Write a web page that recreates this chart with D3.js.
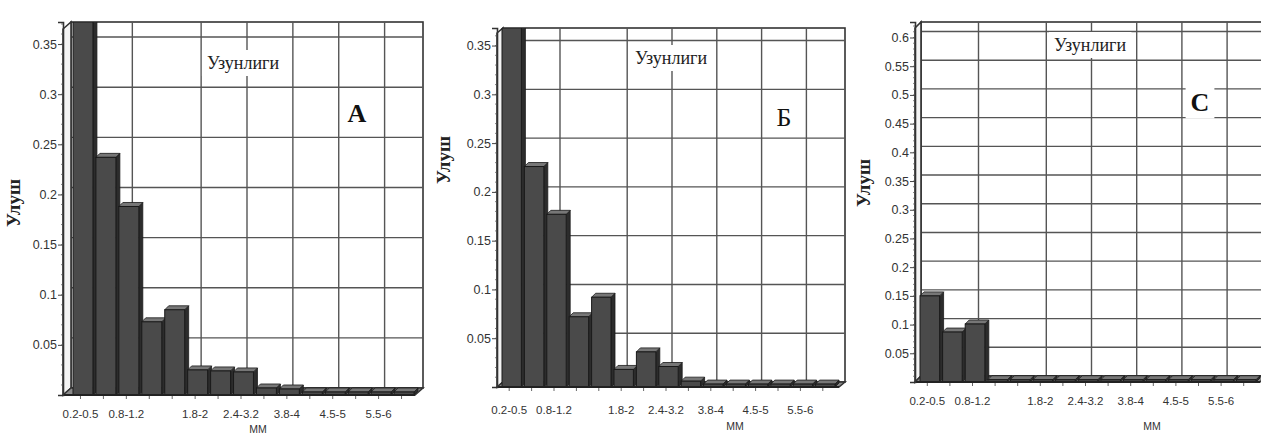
<!DOCTYPE html>
<html><head><meta charset="utf-8">
<script src="https://cdn.jsdelivr.net/npm/d3@7"></script>
<style>
html,body{margin:0;padding:0;background:#fff;}
svg{display:block;}
</style></head>
<body>
<svg id="c" width="1261" height="437"></svg>
<script>
// ---- data ----
const categories = ["0.2-0.5","0.5-0.8","0.8-1.2","1.2-1.5","1.5-1.8","1.8-2","2-2.4","2.4-3.2","3.2-3.8","3.8-4","4-4.5","4.5-5","5-5.5","5.5-6","6-7"];
const tickLabels = ["0.2-0.5","0.8-1.2","1.8-2","2.4-3.2","3.8-4","4.5-5","5.5-6"];
const valuesA = [0.372,0.237,0.188,0.073,0.085,0.025,0.024,0.023,0.007,0.006,0.003,0.003,0.003,0.003,0.003];
const valuesB = [0.368,0.226,0.177,0.072,0.092,0.018,0.036,0.021,0.006,0.003,0.003,0.003,0.003,0.003,0.003];
const valuesC = [0.150,0.087,0.101,0.004,0.004,0.004,0.004,0.004,0.004,0.004,0.004,0.004,0.004,0.004,0.004];
const yTicksAB = [0.05,0.1,0.15,0.2,0.25,0.3,0.35];
const yTicksC = [0.05,0.1,0.15,0.2,0.25,0.3,0.35,0.4,0.45,0.5,0.55,0.6];
const yMaxes = [0.372, 0.368, 0.627];
const minorSteps = [0.01, 0.01, 0.01];
const panelLetters = ["A","Б","C"];
const titleText = "Узунлиги";
const yTitle = "Улуш";
const xTitle = "ММ";

// ---- layout ----
const layouts = [
  {x0:63, bx0:73, bx1:417, right:423, top:22, base:395, dx:8, dy:7, labY:418, mmX:258, mmY:433, ulX:20, ulY:203, tX:243, tY:63, lX:357, lY:113, lBold:true},
  {x0:497, bx0:502, bx1:838, right:845, top:28, base:387, dx:6, dy:5, labY:414, mmX:735, mmY:430, ulX:450, ulY:160, tX:671, tY:58, lX:784, lY:117, lBold:false},
  {x0:915, bx0:920, bx1:1259, right:1266, top:22, base:382, dx:6, dy:6, labY:405, mmX:1152, mmY:430, ulX:870, ulY:183, tX:1090, tY:45, lX:1200, lY:102, lBold:true}
];
const seriesList = [valuesA, valuesB, valuesC];
const tickList = [yTicksAB, yTicksAB, yTicksC];

const svg = d3.select("#c");
const narrow = "'Liberation Sans Narrow','Arial Narrow','Liberation Sans',sans-serif";
const serif = "'Liberation Serif','Times New Roman',serif";
const gridCol = "#555";

layouts.forEach((L, i) => {
  const vals = seriesList[i];
  const g = svg.append("g");
  const x = d3.scaleBand().domain(categories).range([L.bx0, L.bx1]).padding(0);
  const y = d3.scaleLinear().domain([0, yMaxes[i]]).range([L.base, L.top]);
  const dyOff = L.dy, dxOff = L.dx;

  // back wall
  g.append("rect").attr("x", L.x0 + dxOff).attr("y", L.top)
    .attr("width", L.right - L.x0 - dxOff).attr("height", L.base - dyOff - L.top)
    .attr("fill", "#fff").attr("stroke", "#333").attr("stroke-width", 1.6);

  // horizontal grid
  g.selectAll(".hg").data(tickList[i]).join("line")
    .attr("x1", L.x0 + dxOff).attr("x2", L.right)
    .attr("y1", d => y(d) - dyOff).attr("y2", d => y(d) - dyOff)
    .attr("stroke", gridCol).attr("stroke-width", 1.4);
  // vertical grid
  g.selectAll(".vg").data(tickLabels.slice(1)).join("line")
    .attr("x1", d => x(d) + x.bandwidth()/2 + 2).attr("x2", d => x(d) + x.bandwidth()/2 + 2)
    .attr("y1", L.top).attr("y2", L.base - dyOff)
    .attr("stroke", gridCol).attr("stroke-width", 1.4);

  // title box
  const t = g.append("text").attr("x", L.tX).attr("y", L.tY).attr("text-anchor", "middle")
    .attr("dominant-baseline", "central").attr("font-family", serif).attr("font-size", 18)
    .attr("fill", "#222").text(titleText);
  const bb = t.node().getBBox();
  g.insert("rect", "text").attr("x", bb.x - 5).attr("y", bb.y - 3).attr("width", bb.width + 10)
    .attr("height", bb.height + 6).attr("fill", "#fff");
  // panel letter
  const lt = g.append("text").attr("x", L.lX).attr("y", L.lY).attr("text-anchor", "middle")
    .attr("dominant-baseline", "central").attr("font-family", serif).attr("font-size", 26)
    .attr("font-weight", L.lBold ? "bold" : "normal").attr("fill", "#111").text(panelLetters[i]);
  const lb = lt.node().getBBox();
  g.insert("rect", "text").attr("x", lb.x - 5).attr("y", lb.y - 2).attr("width", lb.width + 10)
    .attr("height", lb.height + 4).attr("fill", "#fff");
  lt.raise();

  // left wall
  g.append("polygon")
    .attr("points", [[L.x0, L.top + dyOff], [L.x0 + dxOff, L.top], [L.x0 + dxOff, L.base - dyOff], [L.x0, L.base]].join(" "))
    .attr("fill", "#f4f4f4").attr("stroke", "#333").attr("stroke-width", 1.6);
  // floor
  g.append("polygon")
    .attr("points", [[L.x0, L.base], [L.x0 + dxOff, L.base - dyOff], [L.right, L.base - dyOff], [L.right - dxOff, L.base]].join(" "))
    .attr("fill", "#8a8a8a").attr("stroke", "#333").attr("stroke-width", 1.5);

  // bars (3D)
  const clipId = "clip" + i;
  svg.append("defs").append("clipPath").attr("id", clipId).append("rect")
    .attr("x", L.x0).attr("y", L.top).attr("width", L.right - L.x0 + 10).attr("height", L.base - L.top + 4);
  const bars = g.append("g").attr("clip-path", `url(#${clipId})`);
  const d = 4;
  const bw = x.bandwidth() - 3;
  categories.forEach((c, k) => {
    const bx = x(c), by = y(vals[k]);
    const bg = bars.append("g");
    bg.append("polygon")
      .attr("points", [[bx + bw, by], [bx + bw + d, by - d], [bx + bw + d, L.base - d], [bx + bw, L.base]].join(" "))
      .attr("fill", "#2c2c2c").attr("stroke", "#1a1a1a").attr("stroke-width", 0.8);
    bg.append("polygon")
      .attr("points", [[bx, by], [bx + d, by - d], [bx + bw + d, by - d], [bx + bw, by]].join(" "))
      .attr("fill", "#777").attr("stroke", "#1a1a1a").attr("stroke-width", 0.8);
    bg.append("rect").attr("x", bx).attr("y", by).attr("width", bw).attr("height", L.base - by)
      .attr("fill", "#4a4a4a").attr("stroke", "#1a1a1a").attr("stroke-width", 1);
  });
  // front baseline
  g.append("line").attr("x1", L.x0).attr("x2", L.right - dxOff).attr("y1", L.base).attr("y2", L.base)
    .attr("stroke", "#222").attr("stroke-width", 2);

  // minor y ticks
  const minor = d3.range(minorSteps[i], yMaxes[i], minorSteps[i]);
  g.selectAll(".mt").data(minor).join("line")
    .attr("x1", L.x0 - 2).attr("x2", L.x0).attr("y1", v => y(v)).attr("y2", v => y(v))
    .attr("stroke", "#666").attr("stroke-width", 0.8);
  // y axis
  const yAxis = d3.axisLeft(y).tickValues(tickList[i]).tickSize(5).tickPadding(1).tickFormat(d3.format("~g"));
  const ya = g.append("g").attr("transform", `translate(${L.x0},0)`).call(yAxis);
  ya.select(".domain").attr("stroke", "#333").attr("stroke-width", 1.6);
  ya.selectAll(".tick line").attr("stroke", "#444");
  ya.selectAll("text").attr("font-family", narrow).attr("font-size", 12.5).attr("fill", "#333");

  // x labels
  g.selectAll(".xl").data(tickLabels).join("text")
    .attr("x", c => x(c) + x.bandwidth()/2 - 4).attr("y", L.labY)
    .attr("text-anchor", "middle").attr("font-family", narrow).attr("font-size", 11.5)
    .attr("fill", "#333").text(c => c);
  // small x tick marks
  g.selectAll(".xt").data(categories).join("line")
    .attr("x1", c => x(c) + x.bandwidth()/2 - 4).attr("x2", c => x(c) + x.bandwidth()/2 - 4)
    .attr("y1", L.base + 1).attr("y2", L.base + 4).attr("stroke", "#666");

  // axis titles
  g.append("text").attr("transform", `translate(${L.ulX},${L.ulY}) rotate(-90)`)
    .attr("text-anchor", "middle").attr("font-family", serif).attr("font-size", 19)
    .attr("font-weight", "bold").attr("fill", "#222").text(yTitle);
  g.append("text").attr("x", L.mmX).attr("y", L.mmY).attr("text-anchor", "middle")
    .attr("font-family", narrow).attr("font-size", 10.5).attr("fill", "#333").text(xTitle);
});
</script>
</body></html>
